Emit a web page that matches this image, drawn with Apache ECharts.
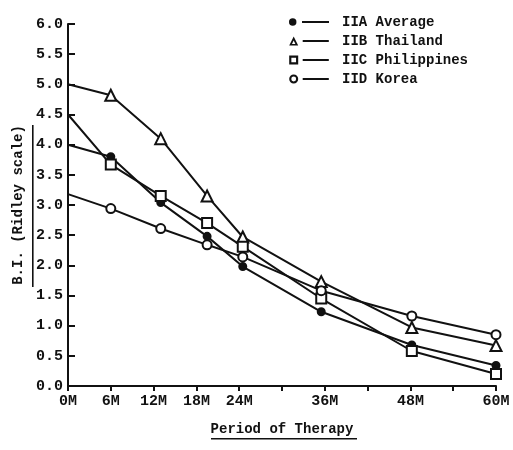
<!DOCTYPE html>
<html>
<head>
<meta charset="utf-8">
<title>B.I. by Period of Therapy</title>
<script src="https://cdn.jsdelivr.net/npm/echarts@6/dist/echarts.min.js"></script>
<style>
  html, body { margin: 0; padding: 0; background: #fff; }
  #myChart { width: 513px; height: 450px; }
</style>
</head>
<body>
<div id="myChart"></div>
<script>
// months at which the points sit (read off the picture, not exactly on the ticks)
const months = [0, 6, 13, 19.5, 24.5, 35.5, 48.2, 60]
// labelled ticks on the x axis
const labelMonths = [0, 6, 12, 18, 24, 36, 48, 60]
const seriesNames = ['IIA Average', 'IIB Thailand', 'IIC Philippines', 'IID Korea']
// B.I. values (Ridley scale)
const average = [4.0, 3.8, 3.04, 2.48, 1.98, 1.23, 0.68, 0.34]
const thailand = [5.0, 4.82, 4.1, 3.15, 2.47, 1.73, 0.97, 0.67]
const philippines = [4.5, 3.67, 3.15, 2.7, 2.31, 1.45, 0.58, 0.2]
const korea = [3.18, 2.94, 2.61, 2.34, 2.14, 1.58, 1.16, 0.85]

const font = 'Liberation Mono'
const ink = '#111'

// legend icons: marker, then a short dash
const dash = ' M15,4 L44,4 L44,6 L15,6 Z'
const icons = [
  'path://M1,5 A4,4 0 1,1 9,5 A4,4 0 1,1 1,5 Z' + dash,
  'path://M5,0 L10,10 L0,10 Z M5,4.4 L3.1,8.2 L6.9,8.2 Z' + dash,
  'path://M0,0 L10,0 L10,10 L0,10 Z M2.4,2.4 L2.4,7.6 L7.6,7.6 L7.6,2.4 Z' + dash,
  'path://M0,5 A5,5 0 1,1 10,5 A5,5 0 1,1 0,5 Z M2.3,5 A2.7,2.7 0 1,0 7.7,5 A2.7,2.7 0 1,0 2.3,5 Z' + dash
]

// the curves start at 0M without a marker
function pairs (values) {
  return values.map((v, i) => i === 0 ? { value: [months[i], v], symbol: 'none' } : [months[i], v])
}

function makeSeries (name, values, symbol, size) {
  return {
    name: name,
    type: 'line',
    data: pairs(values),
    symbol: symbol,
    symbolSize: size,
    showAllSymbol: true,
    lineStyle: { color: ink, width: 2 },
    itemStyle: { color: ink, borderColor: ink, borderWidth: 2 },
    emphasis: { disabled: true },
    z: 3
  }
}

let myChart = echarts.init(document.getElementById('myChart'))
myChart.setOption({
  animation: false,
  textStyle: { fontFamily: font, fontWeight: 'bold', color: ink },
  grid: { left: 68, right: 17, top: 24, bottom: 64 },
  legend: {
    orient: 'vertical',
    left: 284,
    top: 10,
    itemWidth: 40,
    itemHeight: 9,
    itemGap: 5,
    itemStyle: { borderWidth: 0 },
    textStyle: { fontFamily: font, fontWeight: 'bold', fontSize: 14, color: ink, padding: [0, 0, 0, 8] },
    data: seriesNames.map((n, i) => ({ name: n, icon: icons[i] }))
  },
  xAxis: {
    type: 'value',
    min: 0,
    max: 60,
    interval: 6,
    name: 'Period of Therapy',
    nameLocation: 'middle',
    nameGap: 36,
    nameTextStyle: { fontFamily: font, fontWeight: 'bold', fontSize: 14, color: ink },
    axisLine: { lineStyle: { color: ink, width: 2 } },
    axisTick: { length: 5, lineStyle: { color: ink, width: 2 } },
    axisLabel: {
      margin: 8,
      fontFamily: font,
      fontWeight: 'bold',
      fontSize: 15,
      color: ink,
      formatter: v => labelMonths.indexOf(v) >= 0 ? v + 'M' : ''
    },
    splitLine: { show: false }
  },
  yAxis: {
    type: 'value',
    min: 0,
    max: 6,
    interval: 0.5,
    name: 'B.I. (Ridley scale)',
    nameLocation: 'middle',
    nameRotate: 90,
    nameGap: 36,
    nameTextStyle: { fontFamily: font, fontWeight: 'bold', fontSize: 14, color: ink },
    axisLine: { show: true, lineStyle: { color: ink, width: 2 } },
    axisTick: { show: true, inside: true, length: 7, lineStyle: { color: ink, width: 2 } },
    axisLabel: {
      margin: 5,
      fontFamily: font,
      fontWeight: 'bold',
      fontSize: 15,
      color: ink,
      formatter: v => v.toFixed(1)
    },
    splitLine: { show: false }
  },
  // underlines under the two axis titles
  graphic: [
    { type: 'rect', shape: { x: 211, y: 438, width: 146, height: 1.6 }, style: { fill: ink } },
    { type: 'rect', shape: { x: 32, y: 125, width: 1.6, height: 162 }, style: { fill: ink } }
  ],
  series: [
    makeSeries(seriesNames[0], average, 'circle', 7),
    makeSeries(seriesNames[1], thailand, 'emptyTriangle', 11),
    makeSeries(seriesNames[2], philippines, 'emptyRect', 10),
    makeSeries(seriesNames[3], korea, 'emptyCircle', 9)
  ]
})
</script>
</body>
</html>
